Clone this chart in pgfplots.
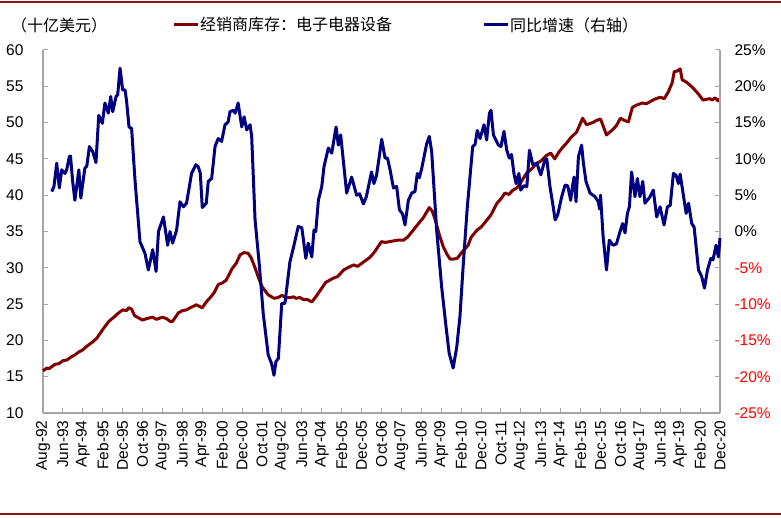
\documentclass[border=0pt]{standalone}
\usepackage{fontspec}
\setmainfont{Liberation Sans}
\newfontfamily\cjk{Noto Sans CJK SC}
\usepackage{pgfplots}
\pgfplotsset{compat=1.18}
\definecolor{invred}{RGB}{128,0,0}
\definecolor{yoyblue}{RGB}{0,0,128}
\definecolor{axgray}{RGB}{165,165,165}
\definecolor{barred}{RGB}{140,20,20}

\begin{document}
\begin{tikzpicture}
\path[use as bounding box] (0,0) rectangle (781pt,517pt);
\draw[barred, line width=1.5pt] (0,515pt) -- (781pt,515pt);
\draw[barred, line width=1.5pt] (0,3pt) -- (781pt,3pt);

\pgfplotsset{
  every axis/.append style={
    scale only axis, width=677pt, height=363pt,
    at={(43pt,104pt)}, anchor=south west,
    xmin=0, xmax=340, enlargelimits=false, clip=false,
    tick align=inside, major tick length=5pt,
    axis line style={axgray, line width=1.2pt},
    major tick style={axgray, line width=1pt},
    tick label style={font=\fontsize{15.5}{18}\selectfont},
    legend style={draw=none, fill=none, inner sep=0pt,
      font=\cjk\fontsize{16}{18}\selectfont,
      nodes={inner sep=1pt}},
    legend image code/.code={\draw[#1] (0pt,0pt) -- (24pt,0pt);},
  }
}

% left axis: inventory, billion USD
\begin{axis}[
  axis x line*=bottom, axis y line*=left,
  ymin=10, ymax=60, ytick={10,15,...,60},
  yticklabel shift=16pt,
  y tick label style={/pgf/number format/assume math mode=true},
  xtick={0,10,...,340},
  xticklabels={Aug-92,Jun-93,Apr-94,Feb-95,Dec-95,Oct-96,Aug-97,Jun-98,Apr-99,Feb-00,Dec-00,Oct-01,Aug-02,Jun-03,Apr-04,Feb-05,Dec-05,Oct-06,Aug-07,Jun-08,Apr-09,Feb-10,Dec-10,Oct-11,Aug-12,Jun-13,Apr-14,Feb-15,Dec-15,Oct-16,Aug-17,Jun-18,Apr-19,Feb-20,Dec-20},
  x tick label style={rotate=90, anchor=east},
  xticklabel shift=4pt,
  legend style={at={(rel axis cs:0.1905,1.0689)}, anchor=west},
]
\addplot[invred, line width=3pt, line join=round] coordinates {
(0,15.8) (2,16.2) (3,16.1) (6,16.7) (8,16.8) (10,17.2) (12,17.3) (14,17.7)
(16,18.0) (18,18.4) (20,18.7) (22,19.2) (25,19.8) (27,20.3) (30,21.5)
(33,22.6) (36,23.3) (38,23.8) (40,24.2) (42,24.1) (43,24.5) (44.5,24.3)
(46,23.4) (48,23.1) (50,22.8) (52,23.0) (55,23.2) (57,22.9) (60,23.2)
(62,23.0) (64,22.6) (65,22.6) (68,23.8) (70,24.1) (72,24.2) (74,24.5)
(77,24.9) (80,24.5) (82,25.3) (84,25.9) (86,26.6) (88,27.7) (90,27.9)
(92,28.3) (95,29.9) (97,30.6) (99,31.8) (101,32.1) (103,32.0) (104.5,31.4)
(106.5,30.0) (108,28.8) (110,27.4) (113,26.3) (116,25.8) (118,25.9)
(120,26.2) (122,25.9) (124,25.9) (126,26.0) (127,25.8) (129,25.9)
(131,25.6) (133,25.6) (135,25.3) (137,26.0) (139,26.8) (142,28.0)
(144,28.3) (146,28.6) (148,28.8) (151,29.7) (153,30.0) (156,30.4)
(158,30.2) (161,30.8) (164,31.4) (166,32.0) (168,32.8) (170,33.6)
(172,33.5) (174,33.6) (176,33.7) (178,33.8) (181,33.8) (183,34.2)
(186,35.2) (188,35.9) (191,36.9) (194,38.3) (195.5,37.8) (197,36.6)
(199,34.6) (201,32.9) (203,31.8) (204.5,31.2) (206,31.2) (208,31.3)
(210,32.0) (213.5,33.1) (215,34.2) (218,35.2) (220,35.6) (223,36.6)
(225,37.3) (228,38.9) (230,39.5) (232,40.3) (234,40.1) (236,40.7)
(238,41.0) (240,41.8) (243,43.1) (245,43.5) (248,44.4) (250,44.7)
(253,45.5) (255,45.8) (257,45.0) (259,45.9) (261,46.6) (263,47.2)
(265,47.9) (268,48.7) (271,50.6) (273,49.7) (276,50.0) (278,50.3)
(280,50.5) (283,48.3) (286,49.0) (288,49.6) (290,50.6) (292,50.3)
(294,50.1) (296,52.1) (298,52.4) (301,52.7) (303,52.6) (305,52.9)
(307,53.2) (310,53.5) (312,53.3) (314,54.2) (316,55.5) (317,57.0)
(318.5,57.1) (320,57.4) (321,55.9) (323,55.6) (326,54.9) (329,54.0)
(331.5,53.1) (333,53.2) (335,53.3) (336,53.1) (337.5,53.4) (339,53.0)
(340,53.3)
};
\addlegendentry{经销商库存：电子电器设备}
\node[anchor=west, inner sep=0pt, font=\cjk\fontsize{16}{18}\selectfont]
  at (rel axis cs:0,1.0689) [xshift=-32pt] {（十亿美元）};
\end{axis}

% right axis: year-on-year growth, percent
\begin{axis}[
  axis y line*=right, axis x line=none,
  ymin=-25, ymax=25, ytick={-25,-20,...,25},
  yticklabels={\textcolor{red}{-25\%},\textcolor{red}{-20\%},\textcolor{red}{-15\%},\textcolor{red}{-10\%},\textcolor{red}{-5\%},0\%,5\%,10\%,15\%,20\%,25\%},
  yticklabel shift=11pt,
  legend style={at={(rel axis cs:0.6484,1.0689)}, anchor=west},
]
\addplot[yoyblue, line width=3pt, line join=round] coordinates {
(4.4,5.5) (5.5,6.2) (6.9,9.4) (8.2,6.0) (9.4,8.5) (11,8.0) (11.9,8.5)
(13.2,10.3) (13.8,10.4) (14.9,6.9) (16,4.3) (18,8.5) (19,4.6) (21,8.7)
(22,9.0) (23.3,11.7) (25,11.0) (26.6,9.5) (28,16.0) (29.8,14.9) (31.1,17.7)
(32.8,16.3) (34,18.6) (35,16.5) (36.7,18.6) (37.5,18.8) (38.7,22.5) (40,19.5)
(41.2,19.5) (42,17.9) (43.2,14.4) (44.5,14.2) (46.2,7.1) (48.7,-1.4)
(51.2,-3.0) (52.9,-5.3) (55.1,-2.5) (56.8,-5.5) (58,0.0) (60.5,2.0)
(62.6,-1.9) (63.8,0.0) (65.1,-1.6) (67.1,0.2) (68.8,4.1) (70.5,3.4) (72.1,3.9)
(74.6,8.0) (76.8,9.2) (78,8.9) (79,8.0) (80,3.3) (82,3.9) (83,6.9) (84.7,7.3)
(86.4,11.7) (88,12.8) (89.7,12.4) (91.4,14.7) (93,15.1) (93.9,16.5)
(95.6,16.7) (96.5,16.3) (98,17.7) (99.8,14.4) (101,15.8) (102.3,14.0)
(104,14.7) (104.8,13.1) (106.5,1.6) (108.7,-4.8) (110.6,-11.3) (113.1,-17.0)
(114.8,-18.2) (116,-19.8) (117,-17.9) (118.2,-17.5) (119.9,-9.9) (121.5,-9.9)
(124,-4.2) (125.7,-2.3) (128.2,0.7) (130,0.5) (132,-3.7) (133.2,-1.6)
(135,-3.5) (136.1,0.2) (137,0.0) (138.3,4.3) (140,6.2) (141.1,8.9)
(143.3,11.5) (145,10.8) (147.2,14.4) (148.3,11.9) (149.5,13.3) (152.5,5.3)
(155,7.5) (157.5,5.0) (159,5.2) (160.9,3.8) (162.4,4.8) (165,8.2) (166.2,6.6)
(167.5,7.7) (170.1,12.7) (171.8,10.1) (173,10.1) (174.3,8.5) (176,6.0)
(177.6,6.2) (179,3.0) (180.6,2.4) (181.8,0.9) (183.5,4.3) (185.2,5.3)
(186.8,5.5) (188,8.0) (189,7.4) (190.2,8.7) (192.7,12.1) (194,13.1)
(195.2,11.0) (197.7,0.2) (200.2,-7.6) (202.4,-13.1) (204,-16.8) (206,-18.8)
(207.8,-15.9) (209.4,-11.7) (211,-4.8) (213.1,3.4) (215.8,11.7) (217,12.0)
(218.1,13.9) (219.5,12.8) (221.5,14.7) (222.8,12.6) (224.2,16.3) (225,16.7)
(226.2,13.3) (228.7,11.9) (230,11.7) (231.5,13.8) (232.9,11.2) (234.2,10.1)
(235.3,10.6) (236.5,8.0) (237.6,6.6) (239,8.0) (239.9,5.7) (241.5,6.3)
(243,6.2) (244.3,11.2) (246,9.2) (248,9.4) (250,7.8) (252.1,9.9) (253,10.0)
(254.6,6.2) (256,3.8) (257.2,1.6) (258.5,2.3) (260.5,4.8) (262.2,6.4)
(263.5,6.3) (265,4.3) (266,6.4) (266.7,7.5) (267.7,4.1) (268.9,10.3)
(270.5,11.9) (271.4,9.4) (272.7,6.9) (274.7,5.3) (277.2,4.8) (278.9,4.1)
(279.5,3.1) (280,5.0) (281.3,-0.7) (283,-5.3) (284.4,-1.2) (286.3,-1.9)
(288,-1.7) (289.8,0.0) (291.1,1.1) (292.3,-0.2) (293.5,2.5) (294.5,3.4)
(295.6,8.2) (297.3,4.8) (298.5,7.3) (299.8,4.8) (301.2,6.9) (302.3,3.9)
(304.9,4.8) (306.5,5.7) (308.2,2.0) (309.9,3.4) (311.9,0.9) (313.6,3.4)
(315,3.6) (316.6,8.0) (318,7.7) (319.1,6.6) (320,7.9) (321.6,5.0) (323,2.5)
(324.2,3.9) (325.8,1.1) (327,0.6) (329.2,-5.3) (330.8,-6.2) (332.2,-7.8)
(333.7,-5.3) (335.4,-3.7) (336.5,-3.9) (338,-1.9) (339.2,-3.5) (340,-0.9)
};
\addlegendentry{同比增速（右轴）}
\end{axis}
\end{tikzpicture}
\end{document}
